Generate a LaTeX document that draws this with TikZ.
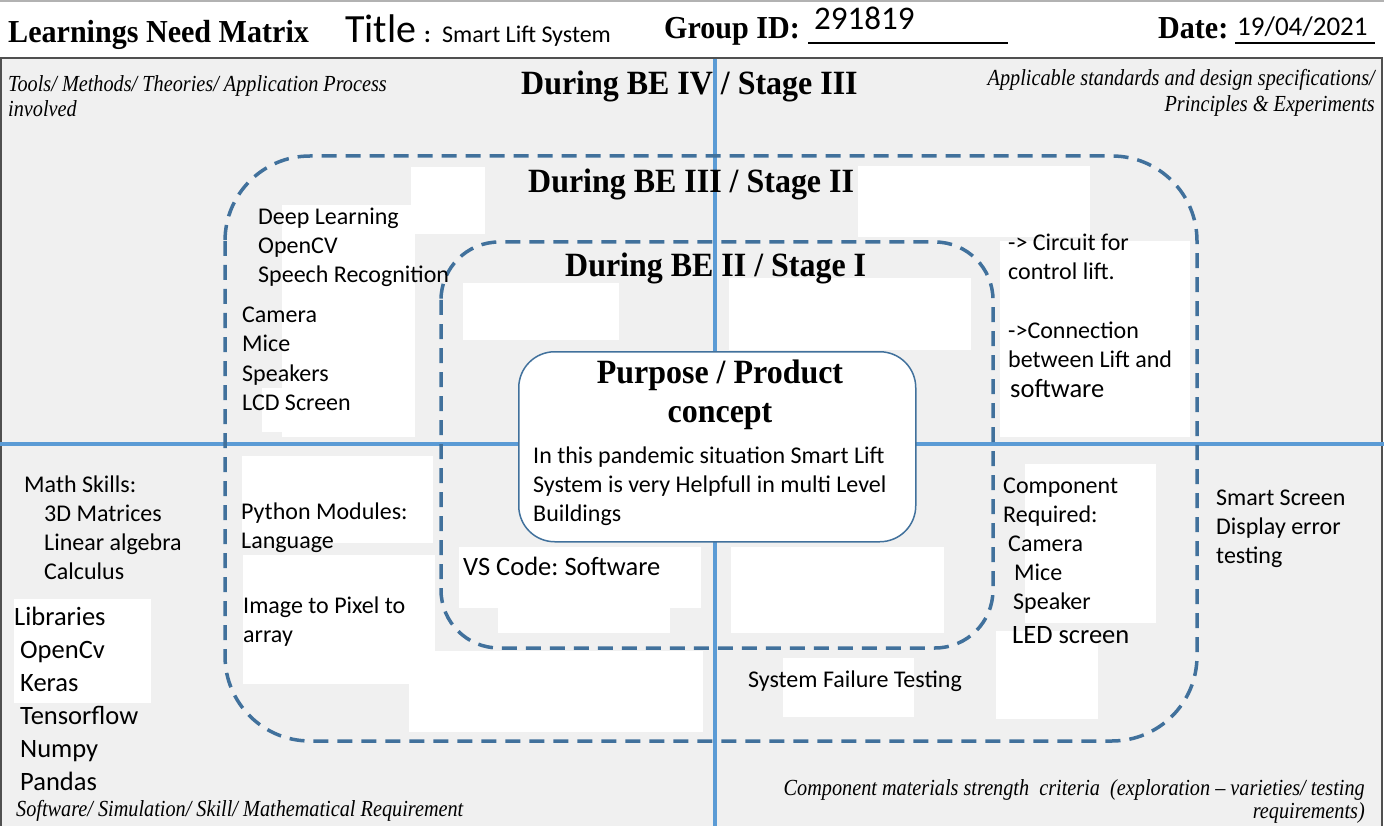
\documentclass[tikz,border=0pt]{standalone}
\usepackage{fontspec}
\setmainfont{Carlito}
\newfontfamily\hdfont[FakeStretch=0.94]{Liberation Serif}
\newfontfamily\lblfont[FakeStretch=0.88]{Liberation Serif}
\frenchspacing
\definecolor{panelgray}{HTML}{F0F0F0}
\definecolor{axisblue}{HTML}{5B9BD5}
\definecolor{ringblue}{HTML}{41719C}
\definecolor{framegray}{HTML}{505050}

\tikzset{
  body/.style={anchor=base west, inner sep=0pt, font=\fontsize{24}{29}\selectfont},
  bigbody/.style={anchor=base west, inner sep=0pt, font=\fontsize{26.5}{33}\selectfont},
  stagehead/.style={anchor=base west, inner sep=0pt, font=\hdfont\bfseries\fontsize{34}{40}\selectfont},
  formhead/.style={anchor=base west, inner sep=0pt, font=\hdfont\bfseries\fontsize{32}{38}\selectfont},
  corner/.style={inner sep=0pt, font=\lblfont\itshape\fontsize{23}{26}\selectfont},
  patch/.style={fill=white, draw=none},
  ring/.style={draw=ringblue, line width=3.5pt, dash pattern=on 15pt off 9pt},
}

\begin{document}
\begin{tikzpicture}[x=1pt,y=-1pt]
  \useasboundingbox (0,0) rectangle (1384,826);

  % --- header strip ---
  \fill[white] (0,0) rectangle (1384,57);
  \draw[gray!60, line width=2pt] (0,1) -- (1384,1);
  \node[formhead] (matrixtitle) at (8,43) {Learnings Need Matrix};
  \node[anchor=base west, inner sep=0pt, font=\fontsize{40}{40}\selectfont] (titlekey) at (345,43) {Title};
  \node[anchor=base west, inner sep=0pt, font=\bfseries\fontsize{24}{24}\selectfont] (titlecolon) at (424,43) {:};
  \node[body] (titleval) at (442,43) {Smart Lift System};
  \node[formhead] (groupkey) at (664,39) {Group ID:};
  \node[anchor=base west, inner sep=0pt, font=\fontsize{33}{33}\selectfont] (groupval) at (814,30) {291819};
  \draw[line width=2pt] (808,43) -- (1008,43);
  \node[formhead] (datekey) at (1158,39) {Date:};
  \node[anchor=base west, inner sep=0pt, font=\fontsize{27}{27}\selectfont] (dateval) at (1237,36) {19/04/2021};
  \draw[line width=2pt] (1235,43) -- (1375,43);

  % --- matrix panel ---
  \fill[panelgray] (1,58) rectangle (1382,826);
  \draw[framegray, line width=2.5pt] (1,826) -- (1,58) -- (1382,58) -- (1382,826);

  % white patches
  \foreach \xa/\ya/\xb/\yb in {411/167/485/234, 282/205/415/437, 262/388/282/432,
      463/283/619/340, 729/278/971/350, 858/166/1090/237, 1000/241/1190/437,
      242/456/433/543, 243/555/435/684, 409/651/703/732, 14/599/151/703,
      459/547/701/608, 498/608/670/633, 731/547/944/633, 783/658/914/717,
      1025/464/1156/623, 996/631/1098/719}
    \fill[patch] (\xa,\ya) rectangle (\xb,\yb);

  % axes
  \draw[axisblue, line width=4pt] (715,59) -- (715,826);
  \draw[axisblue, line width=4pt] (0,444) -- (1384,444);

  % stage rings
  \draw[ring, rounded corners=85pt] (225,156) rectangle (1197,741);
  \draw[ring, rounded corners=58pt] (441,242) rectangle (993,648);

  % --- purpose box ---
  \node[draw=ringblue, line width=1.5pt, fill=white, rounded corners=36pt,
        minimum width=397pt, minimum height=190pt, anchor=north west] (purpose) at (518,351) {};
  \node[anchor=base, inner sep=0pt, font=\hdfont\bfseries\fontsize{34}{40}\selectfont] (purposehead) at (720,383) {Purpose / Product};
  \node[anchor=base, inner sep=0pt, font=\hdfont\bfseries\fontsize{34}{40}\selectfont] (purposeconcept) at (720,422) {concept};
  \foreach \ln [count=\i from 0] in {In this pandemic situation Smart Lift,
      System is very Helpfull in multi Level, Buildings}
    \node[body] (purposeline\i) at (533,463+29*\i) {\ln};

  % stage headings
  \node[stagehead] (stagefour) at (521,95) {During BE IV / Stage III};
  \node[stagehead] (stagethree) at (528,193) {During BE III / Stage II};
  \node[stagehead] (stagetwo) at (565,277) {During BE II / Stage I};

  % corner captions
  \node[corner, anchor=base west] (toolscap) at (8,92) {Tools/ Methods/ Theories/ Application Process};
  \node[corner, anchor=base west] (toolscapb) at (8,117) {involved};
  \node[corner, anchor=base east] (stdcap) at (1375,86) {Applicable standards and design specifications/};
  \node[corner, anchor=base east] (stdcapb) at (1375,112) {Principles \& Experiments};
  \node[corner, anchor=base west] (softcap) at (16,816) {Software/ Simulation/ Skill/ Mathematical Requirement};
  \node[corner, anchor=base east] (compcap) at (1365,795) {Component materials strength~ criteria~ (exploration \textendash{} varieties/ testing};
  \node[corner, anchor=base east] (compcapb) at (1365,818) {requirements)};

  % upper left quadrant
  \foreach \ln [count=\i from 0] in {Deep Learning, OpenCV, Speech Recognition}
    \node[body] (method\i) at (258,225+29*\i) {\ln};
  \foreach \ln [count=\i from 0] in {Camera, Mice, Speakers, LCD Screen}
    \node[body] (device\i) at (242,323+29*\i) {\ln};

  % upper right quadrant
  \node[body] (circuit) at (1008,251) {-> Circuit for};
  \node[body] (circuitb) at (1008,280) {control lift.};
  \node[body] (link) at (1008,338) {->Connection};
  \node[body] (linkb) at (1008,367) {between Lift and};
  \node[bigbody] (linkc) at (1010,397) {software};

  % lower left quadrant
  \node[body] (mathskills) at (24,492) {Math Skills:};
  \foreach \ln [count=\i from 1] in {3D Matrices, Linear algebra, Calculus}
    \node[body] (math\i) at (44,492+29*\i) {\ln};
  \node[bigbody] (libraries) at (14,625) {Libraries};
  \foreach \ln [count=\i from 0] in {OpenCv, Keras, Tensorflow, Numpy, Pandas}
    \node[bigbody] (lib\i) at (20,658+33*\i) {\ln};
  \node[body] (pymodules) at (241,519) {Python Modules:};
  \node[body] (pylang) at (241,548) {Language};
  \node[body] (imgpixel) at (243,613) {Image to Pixel to};
  \node[body] (imgarray) at (243,642) {array};
  \node[bigbody] (vscode) at (463,575) {VS Code: Software};

  % lower right quadrant
  \node[body] (failtest) at (748,687) {System Failure Testing};
  \node[body] (compreq) at (1003,493) {Component};
  \node[body] (compreqb) at (1003,522) {Required:};
  \node[body] (compcam) at (1008,551) {Camera};
  \node[body] (compmice) at (1014,580) {Mice};
  \node[body] (compspk) at (1013,609) {Speaker};
  \node[bigbody] (compled) at (1012,643) {LED screen};
  \foreach \ln [count=\i from 0] in {Smart Screen, Display error, testing}
    \node[body] (smartscr\i) at (1216,505+29*\i) {\ln};
\end{tikzpicture}
\end{document}
